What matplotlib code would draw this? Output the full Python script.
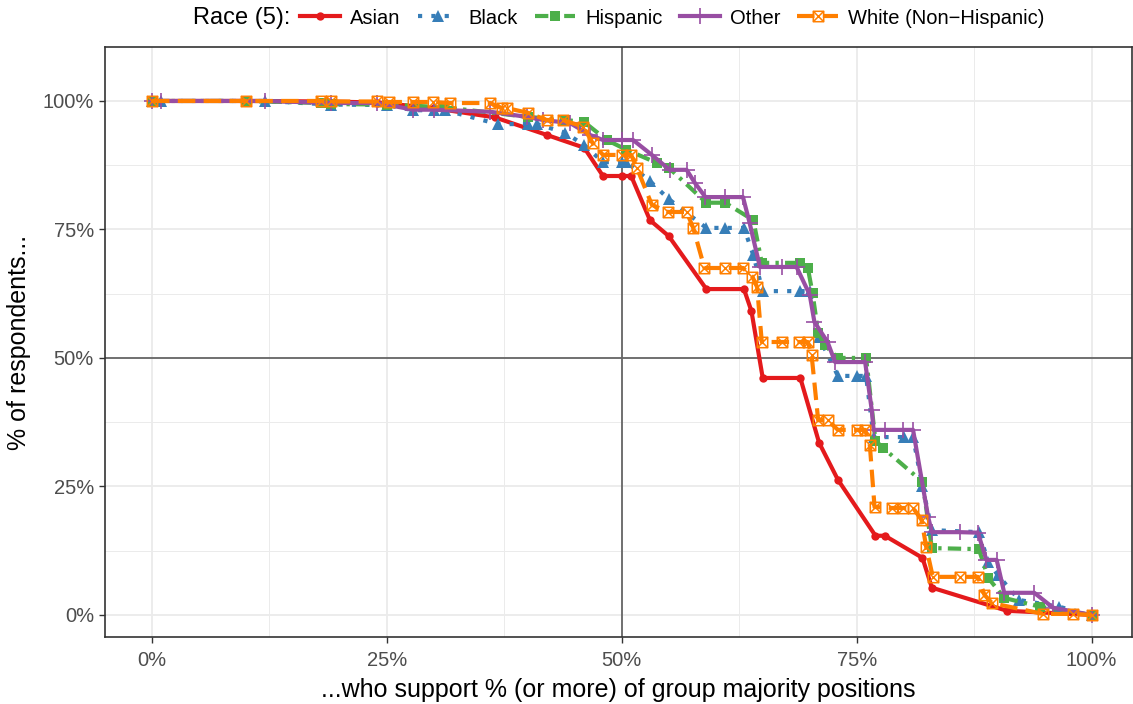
import matplotlib
matplotlib.use("Agg")
import matplotlib.pyplot as plt
from matplotlib.path import Path
from matplotlib.ticker import FixedLocator, FuncFormatter

plt.rcParams['font.family'] = ['Liberation Sans', 'DejaVu Sans']

# Share of respondents (%) supporting at least x% of group majority positions
asian_x = [0, 10, 18.5, 24, 30, 36.5, 42, 46, 48, 50, 51, 53, 55, 59, 63, 63.8, 65, 69, 71, 73, 77, 78, 82, 83, 91, 100]
asian_y = [100, 100, 99.9, 99.7, 98.6, 96.8, 93.4, 90.9, 85.4, 85.4, 85.4, 76.8, 73.7, 63.4, 63.4, 59.1, 46.1, 46.1, 33.5, 26.3, 15.4, 15.4, 11.1, 5.3, 0.8, 0]

black_x = [0, 1, 12, 19, 25, 27.8, 30, 31.2, 36.8, 40, 41, 44, 46, 48, 50, 50.5, 53, 55, 59, 61,
           63, 64, 65, 69, 70, 71, 73, 75, 76, 76.8, 80, 81, 82, 83, 88, 89, 90, 92.3, 96.5, 100]
black_y = [100, 100, 100, 99.3, 99.2, 98.2, 98.2, 98.2, 95.5, 95.5, 95.5, 93.8, 91.4, 88.1, 88.1, 88.1, 84.4, 80.9, 75.3, 75.3,
           75.3, 70, 63, 63, 63, 54, 46.5, 46.5, 46.5, 34.6, 34.6, 34.6, 25, 16.5, 16.1, 10.3, 7.8, 2.9, 1.6, 0]

hisp_x = [0, 10, 18, 19, 25, 31, 40, 44, 46, 48.4, 50.5, 53.8, 55, 59, 61, 64, 64.9, 69, 69.8, 70.3,
          70.9, 71.6, 73, 76, 77, 77.8, 82, 83, 88, 89, 90.7, 94.5, 100]
hisp_y = [100, 100, 99.6, 99.4, 99.3, 98.8, 96.9, 96.3, 95.9, 92.4, 90.5, 87.9, 87, 80.2, 80.2, 76.8, 68.5, 68.5, 67.5, 62.6,
          54.9, 52.5, 50, 50, 33.9, 32.5, 25.9, 13, 12.8, 7.2, 3.3, 1.6, 0]

other_x = [0, 1, 12, 19, 24, 27.8, 30, 36, 39.9, 41.6, 44.5, 46.6, 48, 50, 51.2, 53.2, 55.1, 56.9, 57.8, 58.9,
           61, 62.9, 63.6, 64.7, 67, 68.6, 70, 70.5, 71.9, 72.7, 75.9, 76.6, 76.8, 78, 79.9, 81, 82.6, 83, 86, 87.9,
           88.8, 89.9, 90.7, 93.9, 95.9, 100]
other_y = [100, 100, 100, 99.6, 99.6, 98.3, 98.3, 97.9, 96.9, 96.3, 95.7, 93.4, 92.4, 92.4, 92.4, 89.5, 86.6, 86.6, 84, 81.3,
           81.3, 81.3, 76.3, 67.7, 67.7, 67.7, 62.3, 57, 53.1, 49.2, 49.2, 39.9, 36, 36, 36, 36, 19.1, 16.1, 16.1, 16,
           10.7, 10.7, 4.3, 4.3, 1.4, 0]

white_x = [0, 10, 18, 19, 24, 25.2, 27.8, 29.9, 31.7, 36, 37.2, 37.8, 40, 42, 43.7, 45.9, 46.9, 48, 50, 51,
           51.6, 53.2, 54.9, 56.9, 57.6, 58.8, 61, 62.9, 63.9, 64.4, 64.9, 67, 68.9, 69.8, 70.2, 70.9, 71.9, 73, 75, 75.9,
           76.4, 76.9, 78.8, 79.9, 81, 81.9, 82.4, 83.1, 86, 87.9, 88.6, 89.4, 94.8, 98, 100]
white_y = [100, 100, 100, 99.9, 99.9, 99.8, 99.8, 99.8, 99.6, 99.6, 98.6, 98.6, 97.7, 96.3, 96.3, 95, 91.8, 89.5, 89.5, 89.5,
           87, 79.8, 78.4, 78.4, 75.3, 67.5, 67.5, 67.5, 65.8, 63.8, 53.1, 53.1, 53.1, 53.1, 50.6, 37.9, 37.9, 36, 36, 36,
           33, 21, 20.8, 20.8, 20.8, 18.5, 13.2, 7.4, 7.4, 7.4, 3.9, 2.3, 0.2, 0.2, 0]

group_labels = ["Asian", "Black", "Hispanic", "Other", "White (Non\u2212Hispanic)"]
tick_values = [0, 25, 50, 75, 100]
tick_labels = ["0%", "25%", "50%", "75%", "100%"]

# square with a cross inside (open marker)
sq_cross = Path(
    [(-1, -1), (1, -1), (1, 1), (-1, 1), (-1, -1), (-1, -1), (1, 1), (-1, 1), (1, -1)],
    [Path.MOVETO, Path.LINETO, Path.LINETO, Path.LINETO, Path.CLOSEPOLY,
     Path.MOVETO, Path.LINETO, Path.MOVETO, Path.LINETO])

styles = [
    dict(color="#E41A1C", ls="-", marker="o", ms=6, mfc="#E41A1C", mew=0),
    dict(color="#377EB8", ls=(0, (1, 2.2)), marker="^", ms=8.5, mfc="#377EB8", mew=0),
    dict(color="#4DAF4A", ls=(0, (3.2, 1.5, 0.8, 1.5)), marker="s", ms=7, mfc="#4DAF4A", mew=0),
    dict(color="#984EA3", ls="-", marker="+", ms=11, mew=1.2),
    dict(color="#FF7F00", ls=(0, (4.2, 2.0)), marker=sq_cross, ms=7.5, mfc="none", mew=1.1),
]
series = [(asian_x, asian_y), (black_x, black_y), (hisp_x, hisp_y), (other_x, other_y), (white_x, white_y)]

fig = plt.figure(figsize=(11.33, 7.04), dpi=100)
ax = fig.add_axes([105 / 1133, 1 - 637 / 704, (1132 - 105) / 1133, (637 - 47) / 704])

ax.set_xlim(-5, 104.3)
ax.set_ylim(-4.3, 110.5)

# grid
ax.xaxis.set_major_locator(FixedLocator(tick_values))
ax.yaxis.set_major_locator(FixedLocator(tick_values))
ax.xaxis.set_minor_locator(FixedLocator([12.5, 37.5, 62.5, 87.5]))
ax.yaxis.set_minor_locator(FixedLocator([12.5, 37.5, 62.5, 87.5]))
ax.grid(which="major", color="#EBEBEB", lw=1.3)
ax.grid(which="minor", color="#EBEBEB", lw=0.7)
ax.set_axisbelow(True)
ax.axhline(50, color="#666666", lw=1.3, zorder=1.5)
ax.axvline(50, color="#666666", lw=1.3, zorder=1.5)

handles = []
for (xs, ys), st, lab in zip(series, styles, group_labels):
    h, = ax.plot(xs, ys, lw=3.0, label=lab, **st, mec=st["color"], dash_capstyle="butt")
    handles.append(h)

ax.xaxis.set_major_formatter(FuncFormatter(lambda v, p: tick_labels[tick_values.index(int(v))]))
ax.yaxis.set_major_formatter(FuncFormatter(lambda v, p: tick_labels[tick_values.index(int(v))]))
ax.tick_params(which="major", length=4, width=1, color="#333333", labelsize=14.5, labelcolor="#4D4D4D")
ax.tick_params(axis="x", which="major", pad=6)
ax.tick_params(axis="y", which="major", pad=4)
ax.tick_params(which="minor", length=0)
for s in ax.spines.values():
    s.set_color("#333333")
    s.set_linewidth(1.2)

ax.set_xlabel("...who support % (or more) of group majority positions", fontsize=18, labelpad=6)
ax.set_ylabel("% of respondents...", fontsize=18, labelpad=8)

fig.legend(handles=handles, labels=group_labels, loc="center left", bbox_to_anchor=(300 / 1133, 1 - 18 / 704),
           ncol=5, frameon=False, fontsize=14.5, handlelength=2.0, handletextpad=0.5, columnspacing=0.85,
           borderaxespad=0, borderpad=0)
fig.text(290 / 1133, 1 - 18 / 704, "Race (5):", fontsize=17, ha="right", va="center")

fig.savefig("out.png", dpi=100)
